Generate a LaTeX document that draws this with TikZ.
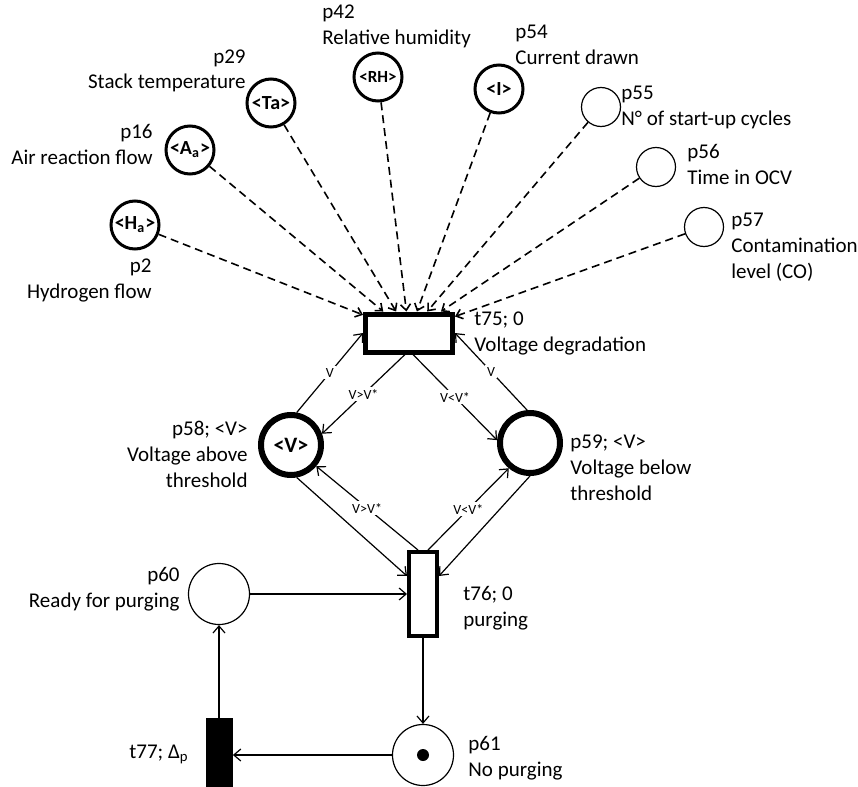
\documentclass[tikz,border=0pt]{standalone}
\usepackage{fontspec}
\setmainfont{Carlito}
\usetikzlibrary{arrows.meta, positioning}

\begin{document}
\begin{tikzpicture}[
    x=0.5pt, y=-0.5pt,
    every node/.style={font=\fontsize{10.5}{13}\selectfont},
    place/.style={circle, draw=black, fill=white, line width=1.5pt, minimum size=24pt,
                  inner sep=0pt, font=\fontsize{10}{10}\selectfont\bfseries},
    thinplace/.style={circle, draw=black, fill=white, line width=0.6pt, minimum size=19.5pt, inner sep=0pt},
    bigplace/.style={circle, draw=black, fill=white, line width=3pt, minimum size=30pt,
                  inner sep=0pt, font=\fontsize{11}{11}\selectfont\bfseries},
    trans/.style={rectangle, draw=black, fill=white, inner sep=0pt},
    arr/.style={-{Straight Barb[length=3.5pt, width=6pt]}, line width=0.6pt},
    inarr/.style={-{Straight Barb[length=3pt, width=5pt]}, dash pattern=on 4pt off 2.5pt, line width=0.8pt},
    guard/.style={font=\fontsize{7}{8}\selectfont, fill=white, inner sep=1pt},
    txt/.style={align=left, anchor=base west, inner sep=0pt},
    rtxt/.style={align=right, anchor=base east, inner sep=0pt},
]
\clip (0,0) rectangle (858,787);

% input places
\node[place] (p2) at (135,225) {<H\textsubscript{a}>};
\node[place] (p16) at (190,150) {<A\textsubscript{a}>};
\node[place] (p29) at (271,103) {<Ta>};
\node[place, font=\fontsize{8.5}{9}\selectfont\bfseries] (p42) at (378,77) {<RH>};
\node[place] (p54) at (499,89) {<I>};
\node[thinplace] (p55) at (601,107) {};
\node[thinplace] (p56) at (656,167) {};
\node[thinplace] (p57) at (704,227) {};

% transitions and voltage places
\node[trans, line width=2.5pt, minimum width=43.5pt, minimum height=19pt] (t75) at (409,333) {};
\node[bigplace] (p58) at (291,445) {<V>};
\node[bigplace] (p59) at (530,443) {};
\node[trans, line width=2pt, minimum width=14pt, minimum height=42pt] (t76) at (423,594) {};

% purging loop
\node[thinplace, minimum size=30.5pt] (p60) at (219,594) {};
\node[thinplace, minimum size=30.5pt] (p61) at (423,755) {};
\node[circle, fill=black, minimum size=6pt, inner sep=0pt] (tok) at (p61) {};
\node[rectangle, fill=black, minimum width=13.5pt, minimum height=50pt, inner sep=0pt] (t77) at (219,768) {};

% labels (anchored at the baseline of the last line)
\node[rtxt] (p2txt) at (152,298) {p2\\Hydrogen flow};
\node[rtxt] (p16txt) at (153,164) {p16\\Air reaction flow};
\node[rtxt] (p29txt) at (246,89) {p29\\Stack temperature};
\node[txt] (p42txt) at (322,44) {p42\\Relative humidity};
\node[txt] (p54txt) at (515,64) {p54\\Current drawn};
\node[txt] (p55txt) at (621,125) {p55\\N° of start-up cycles};
\node[txt] (p56txt) at (687,184) {p56\\Time in OCV};
\node[txt] (p57txt) at (731,278) {p57\\Contamination\\level (CO)};
\node[txt] (t75txt) at (474,351) {t75; 0\\Voltage degradation};
\node[rtxt] (p58txt) at (248,487) {p58; <V>\\Voltage above\\threshold};
\node[txt] (p59txt) at (570,500) {p59; <V>\\Voltage below\\threshold};
\node[txt] (t76txt) at (463,626) {t76; 0\\purging};
\node[rtxt] (p60txt) at (180,607) {p60\\Ready for purging};
\node[txt] (p61txt) at (468,776) {p61\\No purging};
\node[rtxt] (t77txt) at (189,758) {t77; Δ\textsubscript{p}};

% dashed inputs
\foreach \p in {p2,p16,p29,p42,p54,p55,p56,p57}
    \draw[inarr] (\p) -- (t75);

% diamond
\draw[arr] (p58.80) -- node[guard]{V} (t75.west);
\draw[arr] ([xshift=-2pt]t75.south) -- node[guard]{V>V*} (p58.20);
\draw[arr] ([xshift=2pt]t75.south) -- node[guard]{V<V*} (p59.175);
\draw[arr] (p59.95) -- node[guard]{V} (t75.east);
\draw[arr] (p58.-80) -- ([yshift=9pt]t76.west);
\draw[arr] ([xshift=-2.5pt]t76.north) -- node[guard]{V>V*} (p58.-40);
\draw[arr] ([xshift=2.5pt]t76.north) -- node[guard]{V<V*} (p59.230);
\draw[arr] (p59.-90) -- ([yshift=9pt]t76.east);

% loop
\draw[arr] (p60) -- (t76);
\draw[arr] (t76) -- (p61);
\draw[arr] (p61.west) -- (p61.west -| t77.east);
\draw[arr] (t77.north) -- (p60.south);

\end{tikzpicture}
\end{document}
